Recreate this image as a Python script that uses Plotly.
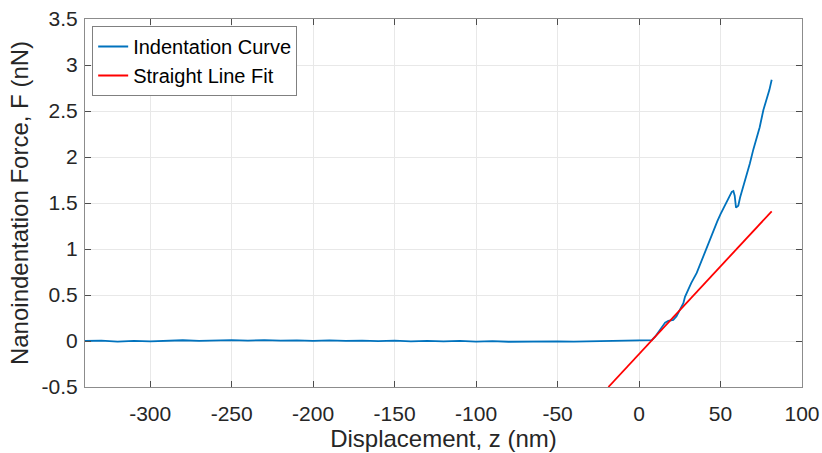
import plotly.graph_objects as go

# Indentation curve: flat approach region (nm, nN)
flat_x = [-340, -330, -320, -310, -300, -290, -280, -270, -260, -250, -240, -230,
          -220, -210, -200, -190, -180, -170, -160, -150, -140, -130, -120, -110,
          -100, -90, -80, -70, -60, -50, -40, -30, -20, -10, 0, 4]
flat_y = [0.000, 0.004, -0.006, 0.002, -0.004, 0.003, 0.008, 0.001, 0.006, 0.010,
          0.004, 0.009, 0.003, 0.007, 0.002, 0.006, 0.001, 0.004, -0.002, 0.003,
          -0.003, 0.002, -0.004, 0.001, -0.006, -0.002, -0.008, -0.004, -0.007,
          -0.003, -0.006, -0.002, 0.002, 0.006, 0.004, 0.008]

# Indentation curve: contact region
contact_x = [7.8, 10, 12, 14, 16, 18, 21, 23, 25, 27.2, 28.2, 30, 32, 35.4, 38,
             40, 43, 45.6, 48, 50, 52, 53.8, 55.5, 56.9, 57.9, 58.7, 59.5, 60.9,
             62, 64, 66, 68, 70.1, 72, 74, 76.3, 78, 80, 81.4]
contact_y = [0.01, 0.05, 0.10, 0.15, 0.20, 0.22, 0.23, 0.27, 0.33, 0.41, 0.48,
             0.55, 0.63, 0.74, 0.86, 0.95, 1.07, 1.20, 1.30, 1.38, 1.45, 1.50,
             1.57, 1.62, 1.63, 1.58, 1.45, 1.47, 1.56, 1.68, 1.82, 1.93, 2.08,
             2.20, 2.32, 2.51, 2.60, 2.73, 2.84]

# Straight line fit
fit_x = [-18.8, 81.4]
fit_y = [-0.5, 1.41]

x_ticks = [-300, -250, -200, -150, -100, -50, 0, 50, 100]
x_labels = ["-300", "-250", "-200", "-150", "-100", "-50", "0", "50", "100"]
y_ticks = [-0.5, 0, 0.5, 1, 1.5, 2, 2.5, 3, 3.5]
y_labels = ["-0.5", "0", "0.5", "1", "1.5", "2", "2.5", "3", "3.5"]

font_family = "Liberation Sans, Arial, sans-serif"
axis_color = "#262626"

fig = go.Figure()
fig.add_trace(go.Scatter(x=flat_x + contact_x, y=flat_y + contact_y, mode="lines",
                         name="Indentation Curve",
                         line=dict(color="#0072BD", width=1.8)))
fig.add_trace(go.Scatter(x=fit_x, y=fit_y, mode="lines", name="Straight Line Fit",
                         line=dict(color="#FF0000", width=1.8)))

axis_common = dict(
    showline=True, linecolor="#8c8c8c", linewidth=1, mirror="ticks",
    ticks="inside", ticklen=6, tickcolor="#4d4d4d", tickwidth=1,
    showgrid=True, gridcolor="#e8e8e8", gridwidth=1, zeroline=False,
    tickfont=dict(family=font_family, size=21, color=axis_color),
    automargin=False, ticklabeloverflow="allow",
)

fig.update_layout(
    width=822, height=453,
    margin=dict(l=85, r=20, t=19, b=66),
    paper_bgcolor="white", plot_bgcolor="white",
    font=dict(family=font_family, color=axis_color),
    xaxis=dict(range=[-340, 100], tickvals=x_ticks, ticktext=x_labels,
               ticklabelstandoff=8,
               title=dict(text="Displacement, z (nm)",
                          font=dict(family=font_family, size=24, color=axis_color),
                          standoff=4),
               **axis_common),
    yaxis=dict(range=[-0.5, 3.5], tickvals=y_ticks, ticktext=y_labels,
               ticklabelstandoff=2,
               title=dict(text="Nanoindentation Force, F (nN)",
                          font=dict(family=font_family, size=24, color=axis_color),
                          standoff=6),
               **axis_common),
    legend=dict(x=0.01, y=0.981, xanchor="left", yanchor="top",
                bgcolor="white", bordercolor="#808080", borderwidth=1,
                font=dict(family=font_family, size=20, color="black"),
                itemwidth=30, tracegroupgap=0),
    showlegend=True,
)

fig.write_html("out.html")
